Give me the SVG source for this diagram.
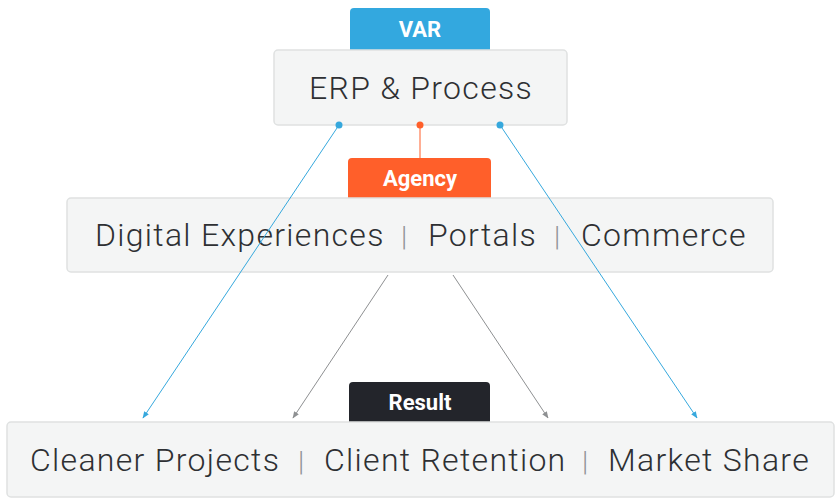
<svg xmlns="http://www.w3.org/2000/svg" width="840" height="500" viewBox="0 0 840 500">
<style>
.box{fill:#f4f5f5;stroke:#dfe1e1;stroke-width:1.5}
.t{font-family:Roboto,"Liberation Sans",sans-serif;font-weight:300;font-size:32px;fill:#2e3033;letter-spacing:1.3px}
.sep{fill:#909396;font-size:28px;letter-spacing:0}
.tab{font-family:Roboto,"Liberation Sans",sans-serif;font-weight:700;font-size:22px;fill:#fff}
</style>
<defs>
<marker id="ab" viewBox="0 0 10 10" refX="9" refY="5" markerWidth="7" markerHeight="7" orient="auto"><path d="M0,1 L10,5 L0,9 z" fill="#36a8dd"/></marker>
<marker id="ag" viewBox="0 0 10 10" refX="9" refY="5" markerWidth="7" markerHeight="7" orient="auto"><path d="M0,1 L10,5 L0,9 z" fill="#8e9092"/></marker>
</defs>
<g id="erp">
<path d="M354,8 H486 a4,4 0 0 1 4,4 V50 H350 V12 a4,4 0 0 1 4,-4z" fill="#33a8df"/>
<text class="tab" x="420" y="37" text-anchor="middle">VAR</text>
<rect class="box" x="274" y="50" width="293" height="75" rx="4"/>
<text class="t" x="309" y="99">ERP &amp; Process</text>
</g>
<g id="agency">
<path d="M352,158 H487 a4,4 0 0 1 4,4 V198 H348 V162 a4,4 0 0 1 4,-4z" fill="#ff5f2a"/>
<text class="tab" x="420" y="186" text-anchor="middle">Agency</text>
<rect class="box" x="67" y="198" width="706" height="74" rx="4"/>
<text class="t" x="95" y="246">Digital Experiences</text>
<text class="t sep" x="401" y="246">|</text>
<text class="t" x="428" y="246">Portals</text>
<text class="t sep" x="554" y="246">|</text>
<text class="t" x="581" y="246">Commerce</text>
</g>
<g id="result">
<path d="M353,382 H486 a4,4 0 0 1 4,4 V422 H349 V386 a4,4 0 0 1 4,-4z" fill="#23252b"/>
<text class="tab" x="420" y="410" text-anchor="middle">Result</text>
<rect class="box" x="7" y="422" width="827" height="75" rx="4"/>
<text class="t" x="30" y="471">Cleaner Projects</text>
<text class="t sep" x="298" y="471">|</text>
<text class="t" x="324" y="471">Client Retention</text>
<text class="t sep" x="582" y="471">|</text>
<text class="t" x="608" y="471">Market Share</text>
</g>
<g id="connectors">
<line x1="339" y1="125" x2="143" y2="418" stroke="#36a8dd" stroke-width="1" marker-end="url(#ab)"/>
<line x1="500" y1="125" x2="697" y2="418" stroke="#36a8dd" stroke-width="1" marker-end="url(#ab)"/>
<circle cx="339" cy="125" r="3.5" fill="#36a8dd"/>
<circle cx="500" cy="125" r="3.5" fill="#36a8dd"/>
<line x1="420" y1="125" x2="420" y2="158" stroke="#ff5f2a" stroke-width="1"/>
<circle cx="420" cy="125" r="3.5" fill="#ff5f2a"/>
<line x1="388" y1="275" x2="293" y2="418" stroke="#8e9092" stroke-width="1" marker-end="url(#ag)"/>
<line x1="453" y1="275" x2="548" y2="418" stroke="#8e9092" stroke-width="1" marker-end="url(#ag)"/>
</g>
</svg>
